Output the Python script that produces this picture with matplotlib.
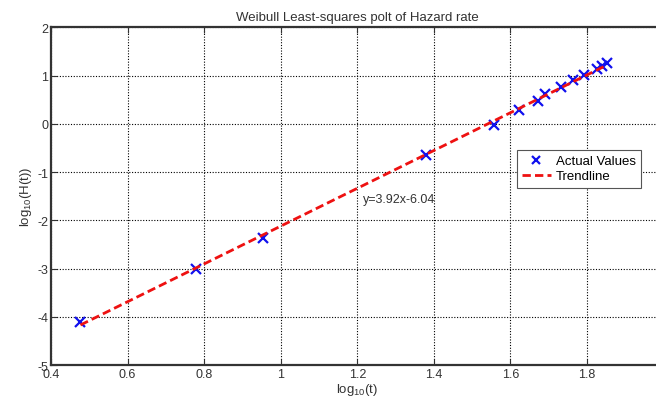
import numpy as np
import matplotlib
matplotlib.use('Agg')
import matplotlib.pyplot as plt

plt.rcParams['font.family'] = ['Liberation Sans', 'DejaVu Sans']
plt.rcParams['mathtext.default'] = 'regular'
plt.rcParams['axes.unicode_minus'] = False

# log10(t) and log10(H(t))
log_t = [0.477, 0.778, 0.954, 1.380, 1.556, 1.623, 1.672, 1.690,
         1.732, 1.763, 1.792, 1.826, 1.839, 1.851]
log_h = [-4.10, -3.01, -2.36, -0.655, -0.02, 0.29, 0.48, 0.61,
         0.76, 0.90, 1.01, 1.14, 1.21, 1.26]

slope = 3.92
intercept = -6.04
fit_x = [log_t[0], log_t[-1]]
fit_y = [slope * v + intercept for v in fit_x]

fig = plt.figure(figsize=(6.56, 4.06), dpi=100)
ax = fig.add_axes([0.0777, 0.0985, 0.934, 0.8315])

ax.plot(log_t, log_h, 'x', color='#1010ee', markersize=7, markeredgewidth=1.6,
        label='Actual Values')
ax.plot(fit_x, fit_y, '--', color='#ee1111', linewidth=2, dashes=(3, 1.5),
        label='Trendline')

ax.set_xlim(0.4, 2.0)
ax.set_ylim(-5, 2)
ax.set_xticks([0.4, 0.6, 0.8, 1.0, 1.2, 1.4, 1.6, 1.8, 2.0])
ax.set_xticklabels(['0.4', '0.6', '0.8', '1', '1.2', '1.4', '1.6', '1.8', ''])
ax.set_yticks(range(-5, 3))

ax.grid(True, color='black', linestyle=(0, (1, 1.5)), linewidth=0.8)
ax.tick_params(direction='in', top=True, right=True, length=4, labelsize=9,
               colors='#333333', pad=2)
for s in ax.spines.values():
    s.set_linewidth(1.6)
    s.set_color('#333333')

ax.set_title('Weibull Least-squares polt of Hazard rate', fontsize=9.5,
             color='#333333', pad=5)
ax.set_xlabel('log$_{10}$(t)', fontsize=9.5, color='#333333', labelpad=1)
ax.set_ylabel('log$_{10}$(H(t))', fontsize=9.5, color='#333333', labelpad=2)

ax.text(1.216, -1.55, 'y=3.92x-6.04', fontsize=9, color='#333333', va='center')

leg = ax.legend(loc='upper left', bbox_to_anchor=(0.760, 0.637), fontsize=9.5,
                fancybox=False, framealpha=1, edgecolor='#555555',
                borderpad=0.4, handlelength=2.2, handletextpad=0.4,
                labelspacing=0.2, borderaxespad=0, markerscale=0.9)
leg.get_frame().set_linewidth(0.8)

fig.savefig('out.png', dpi=100)
